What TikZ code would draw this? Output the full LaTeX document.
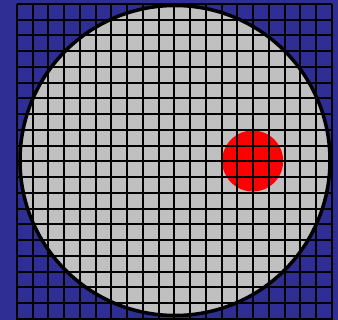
\documentclass[tikz,border=0pt]{standalone}
\usepackage{tikz}
\usetikzlibrary{positioning}
\definecolor{fieldblue}{RGB}{46,46,148}
\definecolor{dishgray}{RGB}{192,192,192}
\definecolor{spotred}{RGB}{255,0,0}

\begin{document}
\begin{tikzpicture}[x=1pt,y=-1pt]
\fill[fieldblue] (0,0) rectangle (338,320);
\useasboundingbox (0,0) rectangle (338,320);
\coordinate (dish) at (175,160.5);
\coordinate (spot) at (252.7,161);
\fill[dishgray] (dish) circle[radius=155];
\fill[spotred] (spot) circle[radius=30.5];
\foreach \i in {0,...,20}{
  \draw[line width=2pt] ({17+15.74*\i},4) -- ({17+15.74*\i},320);
  \draw[line width=2pt] (17,{4+15.75*\i}) -- (332,{4+15.75*\i});
}
\draw[line width=3.5pt] (dish) circle[radius=155];
\end{tikzpicture}
\end{document}
